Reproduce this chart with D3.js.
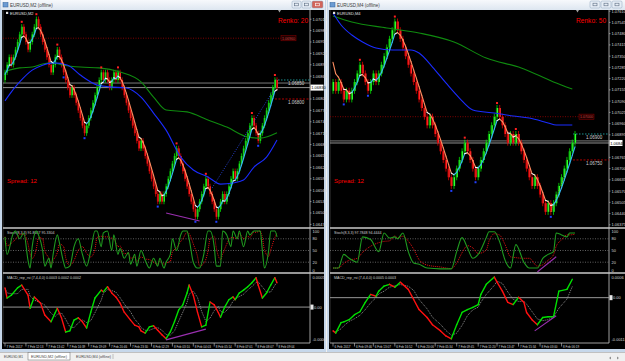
<!DOCTYPE html>
<html>
<head>
<meta charset="utf-8">
<script src="https://cdn.jsdelivr.net/npm/d3@7"></script>
<style>
body { margin: 0; background: #f0f0f0; }
svg { display: block; font-family: "Liberation Sans", Arial, sans-serif; }
</style>
</head>
<body>
<script>
// ---------- data read off the two MT4 windows ----------
// renko brick closes, one per bar
const leftCloses = [1.06870,1.06890,1.06910,1.06890,1.06910,1.06930,1.06950,1.06970,1.06990,
  1.06970,1.06950,1.06930,1.06950,1.06970,1.06990,1.07010,
  1.06990,1.06970,1.06950,1.06930,1.06910,1.06890,1.06870,1.06890,1.06910,1.06930,1.06910,1.06890,1.06870,
  1.06850,1.06830,1.06810,1.06830,1.06810,1.06790,1.06770,1.06750,1.06730,1.06710,
  1.06730,1.06750,1.06770,1.06790,1.06810,1.06830,1.06850,1.06870,
  1.06850,1.06870,1.06850,1.06830,1.06850,1.06870,1.06850,1.06870,1.06850,
  1.06830,1.06810,1.06790,1.06770,1.06750,1.06730,1.06710,1.06690,1.06670,1.06690,1.06670,1.06650,1.06630,1.06610,1.06590,1.06570,1.06550,1.06530,
  1.06550,1.06530,1.06550,
  1.06570,1.06590,1.06610,1.06630,1.06650,1.06670,
  1.06650,1.06630,1.06610,1.06590,1.06570,1.06550,1.06530,1.06510,1.06490,
  1.06510,1.06530,1.06550,1.06570,1.06590,
  1.06570,1.06550,1.06530,1.06510,1.06490,
  1.06510,1.06530,1.06550,1.06530,1.06550,1.06570,1.06590,1.06610,1.06590,1.06610,1.06630,1.06650,1.06670,1.06690,1.06710,1.06730,1.06750,
  1.06730,1.06710,1.06690,
  1.06710,1.06730,1.06750,1.06770,1.06790,1.06810,1.06830,1.06850,1.06830];
const rightCloses = [1.0720,1.0715,1.0720,1.0715,1.0710,1.0715,1.0710,
  1.0715,1.0720,1.0725,1.0730,
  1.0725,1.0720,1.0715,
  1.0720,1.0725,1.0720,1.0725,1.0730,1.0735,1.0740,1.0745,1.0750,1.0755,
  1.0750,1.0745,1.0740,1.0735,1.0730,1.0725,1.0720,1.0715,1.0710,1.0705,1.0700,1.0695,1.0700,1.0695,1.0690,1.0685,1.0680,1.0675,1.0670,1.0665,1.0660,
  1.0665,1.0670,1.0675,1.0680,1.0685,
  1.0680,1.0675,1.0670,1.0665,
  1.0670,1.0675,1.0680,1.0685,1.0690,1.0695,1.0700,1.0705,
  1.0700,1.0695,1.0690,1.0685,
  1.0690,1.0685,1.0690,
  1.0685,1.0680,1.0675,1.0670,1.0665,1.0660,1.0665,1.0660,1.0655,1.0650,1.0645,
  1.0650,1.0645,1.0650,1.0655,1.0660,1.0665,1.0670,1.0675,1.0680,1.0685,1.0690];
const leftBrick = 0.0002;
const rightBrick = 0.0005;
const leftFastSeed = 1.06862;
const rightFastSeed = 1.07390;

// moving averages [bar, price]
const leftBlueMA = [[0,1.06795],[2,1.06811],[7,1.06845],[13,1.06876],[18,1.06889],[23,1.06895],[30,1.06889],[36,1.06863],[44,1.06837],[50,1.06832],[58,1.06829],[65,1.06805],[71,1.06763],[77,1.06718],[84,1.06647],[90,1.06613],[97,1.06595],[103,1.06576],[109,1.06579],[114,1.06587],[119,1.06621],[125,1.06647],[130,1.06692]];
const leftGreenMA = [[0,1.06872],[2,1.06876],[7,1.06882],[13,1.06884],[18,1.06892],[23,1.06895],[28,1.06889],[36,1.06884],[45,1.06882],[55,1.06871],[65,1.06845],[71,1.06805],[77,1.06771],[87,1.06766],[97,1.06745],[106,1.06726],[116,1.06700],[122,1.06697],[130,1.06711]];
const rightBlueMA = [[0,1.07599],[3,1.07530],[7,1.07472],[11,1.07432],[16,1.07397],[22,1.07386],[29,1.07386],[32,1.07368],[37,1.07287],[42,1.07195],[47,1.07108],[52,1.07039],[60,1.07021],[67,1.07004],[73,1.06992],[80,1.06964],[83,1.06952],[89,1.06952]];
const rightGreenMA = [[0,1.07582],[7,1.07547],[20,1.07513],[32,1.07484],[45,1.07432],[57,1.07339],[70,1.07282],[82,1.07201],[89,1.07160]];

// fractal bars
const leftUpFractals = [8, 15, 25, 46, 54, 82, 96, 118, 129];
const leftDownFractals = [28, 38, 73, 91, 101, 121];
const rightUpFractals = [10, 23, 49, 61, 68];
const rightDownFractals = [4, 13, 44, 53, 81];

// horizontal levels
const leftResistance = 1.06960, leftUpperTarget = 1.06850, leftLowerTarget = 1.06800;
const rightResistance = 1.07000, rightUpperTarget = 1.06900, rightLowerTarget = 1.06750;
const leftBid = 1.06830, leftAsk = 1.06842;
const rightBid = 1.06848, rightAsk = 1.06860;

// trend / divergence lines [bar, value]
const leftTrend = [[99,1.06566],[129,1.06829]];
const rightTrend = [[81,1.06449],[87,1.06692]];
const leftDivPrice = [[77,1.06500],[93,1.06479]];
const leftDivMacd = [[77,-0.00058],[96,-0.00039]];
const rightDivStoch = [[76,-5],[83,34]];
const rightDivMacd = [[75,-0.00092],[83,-0.00050]];

// stochastic %K [bar, value]
const leftStochK = [[0,85],[1,40],[4,95],[5,100],[7,80],[9,95],[11,25],[12,5],[13,60],[15,100],[16,90],[18,50],[19,10],[21,30],[22,5],[23,40],[25,90],[26,70],[28,20],[29,5],[31,10],[33,60],[35,80],[37,40],[39,10],[41,50],[43,100],[44,100],[46,60],[47,95],[49,100],[51,50],[52,90],[54,40],[55,55],[57,30],[59,45],[60,15],[62,40],[63,10],[65,50],[67,25],[69,5],[71,30],[73,10],[74,30],[76,5],[77,20],[79,40],[80,80],[82,50],[84,90],[85,100],[87,100],[88,80],[90,20],[92,5],[93,5],[95,40],[97,100],[98,100],[100,60],[101,10],[103,10],[104,100],[106,90],[108,60],[109,100],[111,80],[112,100],[114,60],[116,100],[117,90],[119,100],[120,100],[122,100],[123,50],[124,5],[126,50],[127,100],[129,100],[130,85]];
const rightStochK = [[0,5],[2,5],[4,40],[6,30],[9,20],[11,85],[14,78],[17,47],[19,95],[21,82],[23,85],[24,80],[26,95],[28,47],[30,18],[32,15],[35,5],[40,3],[44,3],[46,47],[48,83],[50,57],[52,30],[54,40],[57,83],[58,98],[60,98],[62,72],[64,25],[66,5],[68,65],[71,20],[73,5],[76,5],[78,30],[80,40],[82,47],[83,95],[85,90],[87,85],[88,95],[90,95]];

// MACD main line [bar, value]
const leftMacd = [[0,0.00034],[1,0.00016],[3,0.00021],[6,0.00034],[8,0.00039],[11,0.00021],[12,-0.00002],[14,0.00018],[17,0.00007],[19,-0.00014],[22,-0.00026],[24,-0.00010],[25,-0.00002],[27,-0.00019],[29,-0.00044],[31,-0.00042],[33,-0.00023],[35,-0.00019],[37,-0.00026],[39,-0.00037],[41,-0.00009],[43,0.00016],[46,0.00030],[47,0.00027],[49,0.00036],[51,0.00025],[53,0.00018],[55,0.00007],[57,-0.00009],[60,-0.00023],[62,-0.00032],[64,-0.00035],[65,-0.00042],[67,-0.00046],[69,-0.00035],[71,-0.00033],[73,-0.00041],[75,-0.00049],[77,-0.00056],[79,-0.00044],[81,-0.00026],[83,-0.00005],[85,0.00004],[87,0.00025],[88,0.00039],[90,0.00021],[92,-0.00009],[94,-0.00035],[96,-0.00032],[98,0.00009],[100,0.00004],[102,-0.00010],[103,-0.00018],[105,0.00000],[107,0.00013],[109,0.00018],[110,0.00013],[112,0.00025],[114,0.00030],[116,0.00036],[118,0.00043],[120,0.00052],[121,0.00039],[123,0.00016],[125,0.00025],[127,0.00039],[129,0.00052],[130,0.00043]];
const rightMacd = [[0,-0.00092],[1,-0.00098],[3,-0.00069],[4,-0.00067],[6,-0.00061],[8,-0.00047],[10,-0.00039],[12,-0.00013],[14,0.00009],[16,0.00004],[17,0.00018],[19,0.00032],[21,0.00037],[23,0.00029],[25,0.00043],[28,0.00023],[30,-0.00005],[32,-0.00033],[35,-0.00055],[37,-0.00075],[40,-0.00092],[42,-0.00106],[44,-0.00114],[46,-0.00075],[48,-0.00041],[50,-0.00033],[52,-0.00027],[54,-0.00019],[55,0.00009],[57,0.00037],[60,0.00057],[61,0.00043],[63,0.00018],[65,-0.00013],[67,-0.00019],[69,0.00001],[71,-0.00013],[72,-0.00041],[74,-0.00061],[76,-0.00075],[78,-0.00055],[80,-0.00053],[82,-0.00053],[84,0.00018],[87,0.00023],[89,0.00051]];

// axis labels
const leftPriceTicks = [1.07010,1.06980,1.06950,1.06920,1.06890,1.06860,1.06830,1.06800,1.06770,1.06740,1.06710,1.06680,1.06650,1.06620,1.06590,1.06560,1.06530,1.06500,1.06470];
const rightPriceTicks = [1.07610,1.07545,1.07480,1.07415,1.07350,1.07285,1.07220,1.07155,1.07090,1.07025,1.06960,1.06895,1.06830,1.06765,1.06700,1.06635,1.06570,1.06505,1.06440,1.06375];
const stochTicks = [100, 80, 50, 20, 0];
const stochLevels = [80, 50, 20];
const leftTimeLabels = ["7 Feb 2017","7 Feb 12:13","7 Feb 13:42","7 Feb 16:39","7 Feb 19:09","7 Feb 20:46","7 Feb 23:30","8 Feb 02:29","8 Feb 03:10","8 Feb 04:03","8 Feb 05:14","8 Feb 07:01","8 Feb 08:07","8 Feb 09:04"];
const leftTimeBars = [0,10,20,30,40,50,60,70,80,90,100,110,120,130];
const rightTimeLabels = ["6 Feb 2017","6 Feb 09:46","6 Feb 13:07","6 Feb 16:52","6 Feb 20:06","7 Feb 05:34","7 Feb 09:45","7 Feb 11:20","7 Feb 13:47","7 Feb 15:34","8 Feb 03:00","8 Feb 06:19"];
const rightTimeBars = [0,8,15,23,31,38,46,54,61,69,77,85];

// ---------- drawing ----------
const svg = d3.select("body").append("svg").attr("width", 625).attr("height", 361);
const defs = svg.append("defs");
const tg = defs.append("linearGradient").attr("id", "tbar").attr("x1", 0).attr("y1", 0).attr("x2", 0).attr("y2", 1);
tg.append("stop").attr("offset", "0%").attr("stop-color", "#f7f9fc");
tg.append("stop").attr("offset", "100%").attr("stop-color", "#dde6f0");

svg.append("rect").attr("width", 625).attr("height", 361).attr("fill", "#f0f0f0");

function clip(id, x, y, w, h) {
  defs.append("clipPath").attr("id", id).append("rect").attr("x", x).attr("y", y).attr("width", w).attr("height", h);
  return svg.append("g").attr("clip-path", "url(#" + id + ")");
}

function smoothSignal(pts, n) { // moving average of the indicator samples
  return pts.map((p, i) => {
    const s = pts.slice(Math.max(0, i - n + 1), i + 1);
    return [p[0], d3.mean(s, d => d[1])];
  });
}

function drawWindow(o) {
  const g = svg.append("g");
  const wx = o.x0, ww = o.x1 - o.x0;
  // frame + title bar
  g.append("rect").attr("x", wx).attr("y", 0).attr("width", ww).attr("height", 352).attr("fill", "#c6d7ea");
  g.append("rect").attr("x", wx + 1).attr("y", 0).attr("width", ww - 2).attr("height", 10).attr("fill", "url(#tbar)");
  g.append("rect").attr("x", wx + 3).attr("y", 2.5).attr("width", 5).attr("height", 4.5)
    .attr("fill", "#6b9bd2").attr("stroke", "#2d5f99").attr("stroke-width", 0.5);
  g.append("text").attr("x", wx + 10).attr("y", 6.8).attr("font-size", 4.5).attr("fill", "#3a3a3a").text(o.title);
  o.buttons.forEach(function(b) {
    g.append("rect").attr("x", b[0]).attr("y", 1).attr("width", b[1]).attr("height", 7).attr("rx", 1.2)
      .attr("fill", b[2]).attr("stroke", "#8fa5bf").attr("stroke-width", 0.5);
    g.append("rect").attr("x", b[0] + b[1] / 2 - 2).attr("y", 3.2).attr("width", 4).attr("height", 2.6)
      .attr("fill", "none").attr("stroke", b[3]).attr("stroke-width", 0.6);
  });
  // black chart
  g.append("rect").attr("x", wx + 2).attr("y", 10).attr("width", ww - 4).attr("height", 339).attr("fill", "#000");

  const x = d3.scaleLinear().domain([0, o.closes.length - 1]).range([o.barStart, o.barEnd]);
  const y = d3.scaleLinear().domain(o.priceDomain).range([228, 10]);
  const ys = d3.scaleLinear().domain([0, 100]).range([270, 231]);
  const ym = d3.scaleLinear().domain(o.macdDomain).range([341, 276]);
  const pw = o.axisX - o.plotL;

  // frame lines
  g.append("line").attr("x1", o.axisX).attr("x2", o.axisX).attr("y1", 10).attr("y2", 343).attr("stroke", "#c8c8c8").attr("stroke-width", 0.8);
  g.append("line").attr("x1", o.plotL).attr("x2", o.plotL).attr("y1", 10).attr("y2", 343).attr("stroke", "#606060").attr("stroke-width", 0.6);
  [228, 273].forEach(v => g.append("line").attr("x1", o.plotL).attr("x2", o.x1 - 2).attr("y1", v).attr("y2", v)
    .attr("stroke", "#c8c8c8").attr("stroke-width", 1.4));
  g.append("line").attr("x1", o.plotL).attr("x2", o.axisX).attr("y1", 343).attr("y2", 343).attr("stroke", "#c8c8c8").attr("stroke-width", 0.8);

  // ----- main panel -----
  const m = clip(o.id + "m", o.plotL, 10, pw, 218);
  const ln = d3.line().x(d => x(d[0])).y(d => y(d[1]));
  const lc = d3.line().curve(d3.curveMonotoneX).x(d => x(d[0])).y(d => y(d[1]));
  const xLast = x(o.closes.length - 1);

  m.append("line").attr("x1", o.plotL).attr("x2", xLast + 4).attr("y1", y(o.resistance)).attr("y2", y(o.resistance))
    .attr("stroke", "#8b0000").attr("stroke-dasharray", "1,1.5").attr("stroke-width", 0.9);
  [[o.ask, "#9a9a9a"], [o.bid, "#b8b8b8"]].forEach(b => m.append("line").attr("x1", o.plotL).attr("x2", o.axisX)
    .attr("y1", y(b[0])).attr("y2", y(b[0])).attr("stroke", b[1]).attr("stroke-width", 0.8));
  m.append("line").attr("x1", xLast - 2).attr("x2", o.axisX).attr("y1", y(o.upperTarget)).attr("y2", y(o.upperTarget))
    .attr("stroke", "#1fa0a0").attr("stroke-dasharray", "1.5,1.5").attr("stroke-width", 0.9);
  m.append("line").attr("x1", xLast - 2).attr("x2", o.axisX).attr("y1", y(o.lowerTarget)).attr("y2", y(o.lowerTarget))
    .attr("stroke", "#c00000").attr("stroke-dasharray", "2,1.5").attr("stroke-width", 0.9);

  // candles
  const cw = o.candleW;
  o.closes.forEach(function(c, i) {
    const op = i === 0 ? c - o.brick : o.closes[i - 1];
    const up = c >= op;
    const top = y(Math.max(op, c)), bot = y(Math.min(op, c));
    m.append("line").attr("x1", x(i)).attr("x2", x(i))
      .attr("y1", top - (bot - top) * 0.35).attr("y2", bot + (bot - top) * 0.35)
      .attr("stroke", up ? "#00ff00" : "#ff0000").attr("stroke-width", 0.7);
    m.append("rect").attr("x", x(i) - cw / 2).attr("y", top).attr("width", cw).attr("height", Math.max(1, bot - top))
      .attr("fill", up ? "#00a000" : "#c00000");
    m.append("line").attr("x1", x(i) + cw / 4).attr("x2", x(i) + cw / 4).attr("y1", top).attr("y2", bot)
      .attr("stroke", up ? "#33ff33" : "#ff2a2a").attr("stroke-width", cw / 2);
  });

  // moving averages
  m.append("path").attr("d", lc(o.green)).attr("fill", "none").attr("stroke", "#0f8a0f").attr("stroke-width", 1.1);
  m.append("path").attr("d", lc(o.blue)).attr("fill", "none").attr("stroke", "#1a2cff").attr("stroke-width", 1.1);
  m.append("path").attr("d", ln(o.trend)).attr("fill", "none").attr("stroke", o.trendColor)
    .attr("stroke-dasharray", "1,1.5").attr("stroke-width", 0.8);

  // fast coloured line (EMA of the bricks)
  let f = o.fastSeed;
  const fast = o.closes.map(c => (f = f + 0.4 * (c - f)));
  for (let i = 1; i < fast.length; i++) {
    const dlt = fast[i] - fast[i - 1];
    const col = Math.abs(dlt) < o.brick * 0.22 ? "#ffffff" : dlt > 0 ? "#35b8f5" : "#ff8d60";
    m.append("line").attr("x1", x(i - 1)).attr("x2", x(i)).attr("y1", y(fast[i - 1])).attr("y2", y(fast[i]))
      .attr("stroke", col).attr("stroke-width", 1.1).attr("stroke-linecap", "round");
  }

  // fractals
  o.upF.forEach(i => {
    const top = y(Math.max(o.closes[i], i ? o.closes[i - 1] : o.closes[i]));
    m.append("rect").attr("x", x(i) - 1).attr("y", top - 6).attr("width", 2).attr("height", 2).attr("fill", "#ff2020");
  });
  o.downF.forEach(i => {
    const bot = y(Math.min(o.closes[i], i ? o.closes[i - 1] : o.closes[i]));
    m.append("rect").attr("x", x(i) - 1).attr("y", bot + 4).attr("width", 2).attr("height", 2).attr("fill", "#2040ff");
  });
  m.append("path").attr("d", ln(o.divPrice)).attr("fill", "none").attr("stroke", "#9a2fb0").attr("stroke-width", 1.1);

  // labels in main panel
  m.append("rect").attr("x", xLast + 4).attr("y", y(o.resistance) - 2.6).attr("width", 15).attr("height", 5.2)
    .attr("fill", "#200000").attr("stroke", "#8b0000").attr("stroke-width", 0.5);
  m.append("text").attr("x", xLast + 5).attr("y", y(o.resistance) + 1.5).attr("font-size", 4.2).attr("fill", "#c04040")
    .attr("textLength", 13).attr("lengthAdjust", "spacingAndGlyphs").text(d3.format(".5f")(o.resistance));
  m.append("text").attr("x", xLast + 11).attr("y", y(o.upperTarget) + 5).attr("font-size", 4.5).attr("fill", "#d0d0d0")
    .text(d3.format(".5f")(o.upperTarget));
  m.append("text").attr("x", xLast + 11).attr("y", y(o.lowerTarget) + 5).attr("font-size", 4.5).attr("fill", "#d0d0d0")
    .text(d3.format(".5f")(o.lowerTarget));
  g.append("text").attr("x", o.renkoX).attr("y", 23).attr("font-size", 6.6).attr("fill", "#ff0000").text(o.renko);
  m.append("text").attr("x", o.plotL + 4).attr("y", 183).attr("font-size", 6).attr("fill", "#ff0000")
    .attr("textLength", 30).attr("lengthAdjust", "spacingAndGlyphs").text("Spread: 12");
  m.append("text").attr("x", o.plotL + 7).attr("y", 14.5).attr("font-size", 4).attr("fill", "#e0e0e0").text(o.symbol);
  m.append("rect").attr("x", o.plotL + 3).attr("y", 11.8).attr("width", 2.2).attr("height", 2.2).attr("fill", "#e0e0e0");
  m.append("path").attr("d", "M" + (o.renkoX) + ",10 l3,0 l-1.5,2.5 z").attr("fill", "#a0a0a0");

  // price axis
  const pa = g.append("g");
  o.priceTicks.filter(t => Math.abs(y(t) - y(o.bid)) > 5).forEach(t => {
    pa.append("line").attr("x1", o.axisX).attr("x2", o.axisX + 1.5).attr("y1", y(t)).attr("y2", y(t)).attr("stroke", "#c8c8c8").attr("stroke-width", 0.6);
    pa.append("text").attr("x", o.axisX + 2.5).attr("y", y(t) + 1.5).attr("font-size", 4).attr("fill", "#d8d8d8")
      .text(d3.format(".5f")(t));
  });
  pa.append("rect").attr("x", o.axisX + 0.5).attr("y", y(o.bid) - 3).attr("width", 13).attr("height", 6).attr("fill", "#ffffff");
  pa.append("text").attr("x", o.axisX + 1.2).attr("y", y(o.bid) + 1.6).attr("font-size", 4).attr("fill", "#000")
    .text(d3.format(".5f")(o.bid));

  // ----- stochastic panel -----
  const s = clip(o.id + "s", o.plotL, 229, pw, 43);
  stochLevels.forEach(v => s.append("line").attr("x1", o.plotL).attr("x2", o.axisX).attr("y1", ys(v)).attr("y2", ys(v))
    .attr("stroke", "#8a8a8a").attr("stroke-dasharray", "1,1.5").attr("stroke-width", 0.7));
  const sl = d3.line().curve(d3.curveMonotoneX).x(d => x(d[0])).y(d => ys(d[1]));
  s.append("path").attr("d", sl(smoothSignal(o.stochK, 3))).attr("fill", "none").attr("stroke", "#e01010")
    .attr("stroke-dasharray", "1,1").attr("stroke-width", 1);
  s.append("path").attr("d", sl(o.stochK)).attr("fill", "none").attr("stroke", "#1f9a1f").attr("stroke-width", 1.1);
  if (o.divStoch) s.append("path").attr("d", d3.line().x(d => x(d[0])).y(d => ys(d[1]))(o.divStoch))
    .attr("fill", "none").attr("stroke", "#9a2fb0").attr("stroke-width", 1.1);
  g.append("text").attr("x", o.plotL + 4).attr("y", 233.5).attr("font-size", 3.6).attr("fill", "#d0d0d0").text(o.stochLabel);
  stochTicks.forEach(t => g.append("text").attr("x", o.axisX + 2.5).attr("y", ys(t) + 1.5).attr("font-size", 4)
    .attr("fill", "#d8d8d8").text(t));

  // ----- MACD panel -----
  const mc = clip(o.id + "c", o.plotL, 274, pw, 69);
  mc.append("line").attr("x1", o.plotL).attr("x2", o.axisX).attr("y1", ym(0)).attr("y2", ym(0)).attr("stroke", "#a8a8a8").attr("stroke-width", 0.9);
  const ml = d3.line().x(d => x(d[0])).y(d => ym(d[1]));
  mc.append("path").attr("d", ml(smoothSignal(o.macd, 3))).attr("fill", "none").attr("stroke", "#9a9a9a")
    .attr("stroke-dasharray", "1,1").attr("stroke-width", 0.9);
  for (let i = 1; i < o.macd.length; i++) {
    const a = o.macd[i - 1], b = o.macd[i];
    mc.append("line").attr("x1", x(a[0])).attr("x2", x(b[0])).attr("y1", ym(a[1])).attr("y2", ym(b[1]))
      .attr("stroke", b[1] >= a[1] ? "#00e000" : "#ff1010").attr("stroke-width", 1.4).attr("stroke-linecap", "round");
  }
  mc.append("path").attr("d", ml(o.divMacd)).attr("fill", "none").attr("stroke", "#9a2fb0").attr("stroke-width", 1.1);
  g.append("text").attr("x", o.plotL + 4).attr("y", 279).attr("font-size", 3.6).attr("fill", "#d0d0d0").text(o.macdLabel);
  g.append("text").attr("x", o.axisX + 2.5).attr("y", 278.5).attr("font-size", 4).attr("fill", "#d8d8d8").text(o.macdTop);
  g.append("text").attr("x", o.axisX + 2.5).attr("y", 341).attr("font-size", 4).attr("fill", "#d8d8d8").text(o.macdBottom);
  g.append("rect").attr("x", o.axisX + 0.5).attr("y", ym(0) - 2.5).attr("width", 3).attr("height", 5).attr("fill", "#e8e8e8");
  g.append("text").attr("x", o.axisX + 4).attr("y", ym(0) + 1.5).attr("font-size", 4).attr("fill", "#d8d8d8").text("0.00");

  // time axis
  o.timeBars.forEach((b, i) => {
    g.append("line").attr("x1", x(b)).attr("x2", x(b)).attr("y1", 343).attr("y2", 346.5).attr("stroke", "#c8c8c8").attr("stroke-width", 0.6);
    g.append("text").attr("x", x(b) + 1.5).attr("y", 347.8).attr("font-size", 3.5).attr("fill", "#d8d8d8")
      .attr("textLength", 16).attr("lengthAdjust", "spacingAndGlyphs").text(o.timeLabels[i]);
  });
}

drawWindow({
  id: "L", x0: 0, x1: 326, title: "EURUSD,M2 (offline)", symbol: "EURUSD,M2",
  buttons: [[292, 9, "#e6edf5", "#5a6b80"], [302, 9, "#e6edf5", "#5a6b80"], [312, 11, "#d2645a", "#ffffff"]],
  plotL: 3, axisX: 310, barStart: 5, barEnd: 277, candleW: 1.7,
  priceDomain: [1.064605, 1.070342], macdDomain: [-0.0006, 0.00055],
  closes: leftCloses, brick: leftBrick, fastSeed: leftFastSeed,
  blue: leftBlueMA, green: leftGreenMA, upF: leftUpFractals, downF: leftDownFractals,
  resistance: leftResistance, upperTarget: leftUpperTarget, lowerTarget: leftLowerTarget, bid: leftBid, ask: leftAsk,
  trend: leftTrend, trendColor: "#3050ff", divPrice: leftDivPrice, divMacd: leftDivMacd, divStoch: null,
  priceTicks: leftPriceTicks, renko: "Renko: 20", renkoX: 278,
  stochK: leftStochK, macd: leftMacd,
  stochLabel: "Stoch(8,3,3) 91.8667 95.3304", macdLabel: "MACD_rep_rsi (7,4,4,0) 0.0003 0.0002 0.0002",
  macdTop: "0.0005", macdBottom: "-0.0006",
  timeBars: leftTimeBars, timeLabels: leftTimeLabels
});

drawWindow({
  id: "R", x0: 327, x1: 627, title: "EURUSD,M4 (offline)", symbol: "EURUSD,M4",
  buttons: [[590, 10, "#e6edf5", "#5a6b80"], [601, 10, "#e6edf5", "#5a6b80"], [612, 10, "#e6edf5", "#5a6b80"]],
  plotL: 330, axisX: 609, barStart: 333, barEnd: 575, candleW: 2.2,
  priceDomain: [1.063566, 1.076168], macdDomain: [-0.0012, 0.0006],
  closes: rightCloses, brick: rightBrick, fastSeed: rightFastSeed,
  blue: rightBlueMA, green: rightGreenMA, upF: rightUpFractals, downF: rightDownFractals,
  resistance: rightResistance, upperTarget: rightUpperTarget, lowerTarget: rightLowerTarget, bid: rightBid, ask: rightAsk,
  trend: rightTrend, trendColor: "#a8a040", divPrice: [], divMacd: rightDivMacd, divStoch: rightDivStoch,
  priceTicks: rightPriceTicks, renko: "Renko: 50", renkoX: 576,
  stochK: rightStochK, macd: rightMacd,
  stochLabel: "Stoch(8,3,3) 97.7848 94.4444", macdLabel: "MACD_rep_rsi (7,4,4,0) 0.0005 0.0003",
  macdTop: "0.0006", macdBottom: "-0.0011",
  timeBars: rightTimeBars, timeLabels: rightTimeLabels
});

// bottom tab bar
const tabs = svg.append("g");
tabs.append("rect").attr("x", 0).attr("y", 352).attr("width", 625).attr("height", 9).attr("fill", "#f0f0f0");
tabs.append("line").attr("x1", 0).attr("x2", 625).attr("y1", 352.5).attr("y2", 352.5).attr("stroke", "#a0a0a0").attr("stroke-width", 0.6);
tabs.append("rect").attr("x", 28).attr("y", 352.5).attr("width", 42).attr("height", 7.5).attr("fill", "#ffffff")
  .attr("stroke", "#7a7a7a").attr("stroke-width", 0.6);
[["EURUSD,M1", 4, 19], ["EURUSD,M2 (offline)", 31, 36], ["EURUSD,M4 (offline)", 76, 35]].forEach(t =>
  tabs.append("text").attr("x", t[1]).attr("y", 358.3).attr("font-size", 4.2).attr("fill", "#444")
    .attr("textLength", t[2]).attr("lengthAdjust", "spacingAndGlyphs").text(t[0]));
tabs.append("line").attr("x1", 113).attr("x2", 113).attr("y1", 354).attr("y2", 359).attr("stroke", "#a0a0a0").attr("stroke-width", 0.6);
tabs.append("path").attr("d", "M611,356.5 l-2,1.5 l2,1.5 z M617,356.5 l2,1.5 l-2,1.5 z").attr("fill", "#909090");
</script>
</body>
</html>
